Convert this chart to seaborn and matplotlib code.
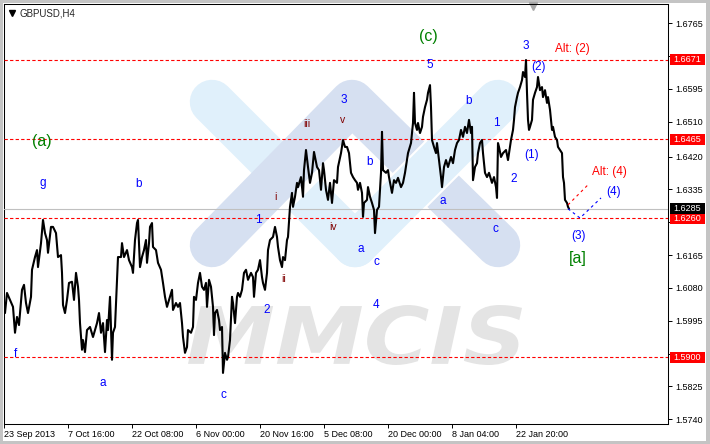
import numpy as np
import pandas as pd
import seaborn as sns
import matplotlib.pyplot as plt
from matplotlib.patches import Rectangle, PathPatch
from matplotlib.lines import Line2D
from matplotlib.textpath import TextPath
from matplotlib.font_manager import FontProperties
from matplotlib.transforms import Affine2D

# ---------------------------------------------------------------
# GBPUSD H4 closes (bar index, price)
bars = [1, 3, 6, 9, 11, 13, 15, 18, 20, 22, 24, 27, 28, 31, 33, 34, 37, 39, 41, 43,
        44, 47, 49, 52, 54, 57, 58, 59, 61, 63, 65, 68, 70, 72, 74, 75, 76, 78, 79, 81,
        83, 86, 89, 91, 93, 95, 97, 99, 101, 103, 104, 106, 107, 108, 109, 111, 113, 114, 117, 118,
        120, 123, 125, 128, 129, 131, 133, 134, 136, 138, 140, 142, 143, 145, 146, 148, 149, 152, 154, 157,
        159, 161, 163, 165, 168, 169, 172, 174, 176, 178, 179, 181, 183, 184, 187, 189, 190, 192, 194, 196,
        198, 200, 202, 203, 205, 207, 209, 210, 211, 213, 215, 216, 218, 219, 221, 223, 224, 226, 228, 229,
        231, 233, 234, 236, 238, 240, 242, 244, 247, 249, 250, 252, 254, 256, 258, 259, 261, 263, 264, 266,
        269, 271, 273, 274, 276, 278, 279, 281, 283, 284, 286, 288, 289, 291, 293, 294, 297, 299, 300, 302,
        304, 306, 308, 310, 313, 315, 317, 319, 320, 322, 324, 326, 328, 330, 333, 334, 337, 339, 341, 343,
        345, 347, 349, 351, 353, 354, 356, 358, 359, 360, 363, 364, 366, 368, 370, 371, 373, 375, 377, 378,
        379, 382, 384, 385, 388, 390, 392, 394, 397, 399, 401, 403, 404, 407, 409, 410, 411, 413, 414, 416,
        418, 419, 421, 423, 424, 426, 427, 428, 430, 432, 433, 435, 437, 438, 440, 442, 444, 447, 449, 451,
        453, 455, 457, 459, 461, 463, 465, 467, 468, 469, 471, 473, 474, 476, 478, 479, 481, 483, 485, 488,
        490, 492, 493, 494, 495, 497, 499, 502, 504, 506, 507, 509, 510, 511, 513, 514, 516, 518, 519, 521,
        522, 523, 524, 525, 526, 528, 529, 531, 533, 534, 536, 538, 539, 541, 543, 544, 546, 548, 549, 551,
        553, 554, 556, 558, 559, 560, 561, 563, 564, 565]
close = [1.6015, 1.6067, 1.6049, 1.6031, 1.5964, 1.6005, 1.5984, 1.6075, 1.6088, 1.6041,
         1.6015, 1.6057, 1.6127, 1.6160, 1.6178, 1.6134, 1.6196, 1.6256, 1.6222, 1.6204,
         1.6171, 1.6238, 1.6238, 1.6222, 1.6160, 1.6165, 1.6119, 1.6036, 1.6015, 1.6049,
         1.6093, 1.6096, 1.6049, 1.6119, 1.6083, 1.6049, 1.5989, 1.5920, 1.5945, 1.5914,
         1.5971, 1.5979, 1.5953, 1.5971, 1.5989, 1.6015, 1.5964, 1.5989, 1.5914, 1.5997,
         1.5971, 1.6057, 1.5979, 1.5894, 1.5964, 1.5979, 1.6101, 1.6160, 1.6160, 1.6196,
         1.6160, 1.6178, 1.6152, 1.6134, 1.6119, 1.6204, 1.6248, 1.6256, 1.6134, 1.6160,
         1.6178, 1.6204, 1.6145, 1.6196, 1.6238, 1.6248, 1.6186, 1.6178, 1.6145, 1.6127,
         1.6093, 1.6057, 1.6031, 1.6049, 1.6075, 1.6023, 1.6041, 1.6031, 1.6041, 1.5989,
         1.5953, 1.5912, 1.5927, 1.5971, 1.5964, 1.5979, 1.6057, 1.6049, 1.6093, 1.6119,
         1.6083, 1.6075, 1.6093, 1.6031, 1.6101, 1.6083, 1.6031, 1.5958, 1.6015, 1.6023,
         1.5997, 1.5971, 1.5979, 1.5860, 1.5912, 1.5894, 1.5901, 1.5945, 1.6057, 1.6041,
         1.5989, 1.6057, 1.6067, 1.6057, 1.6075, 1.6119, 1.6127, 1.6101, 1.6119, 1.6108,
         1.6057, 1.6119, 1.6127, 1.6152, 1.6108, 1.6093, 1.6075, 1.6119, 1.6178, 1.6204,
         1.6212, 1.6238, 1.6212, 1.6186, 1.6152, 1.6134, 1.6160, 1.6152, 1.6204, 1.6212,
         1.6290, 1.6326, 1.6290, 1.6316, 1.6352, 1.6341, 1.6367, 1.6316, 1.6385, 1.6437,
         1.6393, 1.6352, 1.6378, 1.6432, 1.6393, 1.6385, 1.6334, 1.6403, 1.6385, 1.6334,
         1.6308, 1.6352, 1.6300, 1.6359, 1.6352, 1.6393, 1.6429, 1.6463, 1.6445, 1.6445,
         1.6429, 1.6378, 1.6367, 1.6359, 1.6352, 1.6334, 1.6352, 1.6326, 1.6264, 1.6300,
         1.6308, 1.6341, 1.6316, 1.6300, 1.6282, 1.6222, 1.6282, 1.6290, 1.6378, 1.6484,
         1.6385, 1.6378, 1.6385, 1.6367, 1.6326, 1.6359, 1.6352, 1.6365, 1.6341, 1.6352,
         1.6378, 1.6411, 1.6429, 1.6455, 1.6507, 1.6585, 1.6507, 1.6489, 1.6507, 1.6481,
         1.6497, 1.6523, 1.6548, 1.6567, 1.6585, 1.6605, 1.6548, 1.6463, 1.6445, 1.6429,
         1.6455, 1.6411, 1.6367, 1.6341, 1.6393, 1.6411, 1.6393, 1.6419, 1.6403, 1.6437,
         1.6455, 1.6463, 1.6489, 1.6471, 1.6497, 1.6481, 1.6515, 1.6481, 1.6497, 1.6359,
         1.6393, 1.6403, 1.6429, 1.6455, 1.6463, 1.6429, 1.6378, 1.6367, 1.6378, 1.6352,
         1.6367, 1.6341, 1.6313, 1.6455, 1.6445, 1.6419, 1.6429, 1.6437, 1.6411, 1.6445,
         1.6463, 1.6489, 1.6515, 1.6548, 1.6574, 1.6585, 1.6600, 1.6618, 1.6639, 1.6626,
         1.6670, 1.6585, 1.6515, 1.6489, 1.6497, 1.6515, 1.6567, 1.6585, 1.6600, 1.6626,
         1.6592, 1.6600, 1.6574, 1.6592, 1.6559, 1.6574, 1.6541, 1.6489, 1.6497, 1.6471,
         1.6463, 1.6445, 1.6437, 1.6429, 1.6367, 1.6352, 1.6308, 1.6300, 1.6290, 1.6285]

date_ticks = [0, 64, 128, 192, 256, 320, 384, 448, 512]
date_labels = ["23 Sep 2013", "7 Oct 16:00", "22 Oct 08:00", "6 Nov 00:00", "20 Nov 16:00",
               "5 Dec 08:00", "20 Dec 00:00", "8 Jan 04:00", "22 Jan 20:00"]
price_ticks = [1.6765, 1.6680, 1.6595, 1.6510, 1.6420, 1.6335, 1.6250,
               1.6165, 1.6080, 1.5995, 1.5910, 1.5825, 1.5740]
# 1.6680, 1.6250 and 1.5910 sit under the level boxes
price_labels = ["1.6765", "", "1.6595", "1.6510", "1.6420", "1.6335", "",
                "1.6165", "1.6080", "1.5995", "", "1.5825", "1.5740"]

levels = [1.6671, 1.6465, 1.6260, 1.5900]
level_labels = ["1.6671", "1.6465", "1.6260", "1.5900"]
last_price = 1.6285

# wave marks: text, bar, price, kind
wave_text = ["g", "f", "a", "b", "c", "1", "2", "3", "b", "a", "c", "4", "5", "a", "b", "1",
             "c", "2", "3", "(2)", "(1)", "(3)", "(4)",
             "i", "ii", "iii", "v", "iv",
             "(a)", "(c)", "[a]",
             "Alt: (2)", "Alt: (4)"]
wave_bar = [39, 12, 99, 135, 219, 254, 263, 340, 366, 357, 372, 372, 426, 439, 465, 492,
            491, 510, 522, 534, 528, 574, 610,
            271, 280, 303, 339, 329,
            38, 424, 574,
            568, 605]
wave_price = [1.6352, 1.5909, 1.5834, 1.6349, 1.5803, 1.6256, 1.6023, 1.6567, 1.6406, 1.6181,
              1.6147, 1.6036, 1.6657, 1.6305, 1.6564, 1.6507, 1.6233, 1.6362, 1.6706, 1.6652,
              1.6424, 1.6215, 1.6328,
              1.6316, 1.6103, 1.6504, 1.6515, 1.6238,
              1.6458, 1.6732, 1.6155,
              1.6698, 1.6380]
wave_kind = ["minor"] * 23 + ["sub"] * 5 + ["major"] * 3 + ["alt"] * 2

# projected paths
main_bars = [564, 576, 597]
main_prices = [1.6285, 1.6261, 1.6313]
alt_bars = [564, 584]
alt_prices = [1.6295, 1.6347]

# ---------------------------------------------------------------
sns.set_style("white")
plt.rcParams['font.family'] = ['Liberation Sans', 'DejaVu Sans']

W, H = 710, 444
fig = plt.figure(figsize=(W / 100, H / 100), dpi=100, facecolor='#c4c4c4')
fig.patches.append(Rectangle((3 / W, 3 / H), (W - 7) / W, (H - 6) / H,
                             transform=fig.transFigure, fc='white', ec='none', zorder=-5))
ax = fig.add_axes([4 / W, 20 / H, 664 / W, 420 / H])
ax.set_facecolor('white')

# watermark logo (pixel coordinates, y down)
T = Affine2D().scale(1, -1).translate(0, H)
light, greyblue = '#e0f0fb', '#d6e0f1'
logo = [([212, 355], [102, 245], light, 32, 'round', 0.20),
        ([252, 318], [213, 147], 'white', 35, 'butt', 0.25),
        ([212, 352, 498], [245, 102, 245], greyblue, 32, 'round', 0.30),
        ([392, 462], [208, 138], 'white', 35, 'butt', 0.35),
        ([355, 498], [245, 102], light, 32, 'round', 0.40)]
for xs, ys, col, lw, cap, z in logo:
    ax.add_artist(Line2D(xs, ys, transform=T, color=col, lw=lw, solid_capstyle=cap,
                         solid_joinstyle='round', zorder=z, clip_on=False))
tp = TextPath((0, 0), "MMCIS", size=100,
              prop=FontProperties(family='DejaVu Sans', weight='bold', style='oblique'))
bb = tp.get_extents()
tt = Affine2D().translate(-bb.x0, -bb.y0).scale(334 / bb.width, 60 / bb.height).translate(188, H - 365)
ax.add_artist(PathPatch(tp, transform=tt, fc='#e4e4e4', ec='none', zorder=0.45, clip_on=False))

# levels
for lv in levels:
    ax.axhline(lv, color='red', lw=0.8, ls=(0, (3, 2)), zorder=3)
ax.axhline(last_price, color='#c0c0c0', lw=0.8, zorder=2.8)

# price
df = pd.DataFrame({'bar': bars, 'close': close})
sns.lineplot(data=df, x='bar', y='close', ax=ax, color='black', lw=1.5,
             estimator=None, sort=False, zorder=4)

ax.plot(main_bars, main_prices, color='blue', lw=0.8, ls=(0, (2.5, 3)), zorder=4)
ax.plot(alt_bars, alt_prices, color='red', lw=0.8, ls=(0, (2.5, 3)), zorder=4)

styles = {"minor": ('blue', 8.5), "sub": ('#800000', 7.5), "major": ('green', 11.5), "alt": ('red', 8.5)}
for t, b, p, k in zip(wave_text, wave_bar, wave_price, wave_kind):
    c, fs = styles[k]
    ax.text(b, p, t, color=c, fontsize=fs, ha='center', va='center', zorder=5)

# axes
ax.set_xlim(0, 664)
ax.set_ylim(1.57278, 1.68150)
ax.set_xlabel('')
ax.set_ylabel('')
ax.yaxis.tick_right()
ax.set_yticks(price_ticks)
ax.set_yticklabels(price_labels)
ax.set_xticks(date_ticks)
ax.set_xticklabels(date_labels, ha='left')
ax.tick_params(axis='y', right=True, left=False, direction='out', length=3, width=0.7,
               pad=2, labelsize=6.5, colors='black')
ax.tick_params(axis='x', bottom=True, direction='out', length=3, width=0.7,
               pad=1.5, labelsize=6.5, colors='black')
for s in ax.spines.values():
    s.set_visible(True)
    s.set_color('black')
    s.set_linewidth(0.75)

# price boxes on the right
px = 0.0002588
ytr = ax.get_yaxis_transform()
for lv, lab, fc in list(zip(levels, level_labels, ['red'] * 4)) + [(last_price, "%.4f" % last_price, 'black')]:
    ax.add_artist(Rectangle((1 + 2 / 664, lv - 5.5 * px), 35 / 664, 11 * px, transform=ytr,
                            fc=fc, ec='none', clip_on=False, zorder=6))
    ax.text(1 + 19.5 / 664, lv, lab, transform=ytr, color='white', fontsize=6.5,
            ha='center', va='center', zorder=7, clip_on=False)

# header
ax.plot([7.7 / 664], [(424 - 13) / 420], marker='v', color='black', ms=4.5,
        transform=ax.transAxes, clip_on=False)
ax.text(16 / 664, (424 - 13) / 420, "GBPUSD,H4", transform=ax.transAxes,
        fontsize=7, ha='left', va='center')
ax.plot([529 / 664], [(424 - 6.5) / 420], marker='v', color='#a8a8a8', ms=6,
        transform=ax.transAxes, clip_on=False)

fig.savefig("out.png", dpi=100, facecolor=fig.get_facecolor())
